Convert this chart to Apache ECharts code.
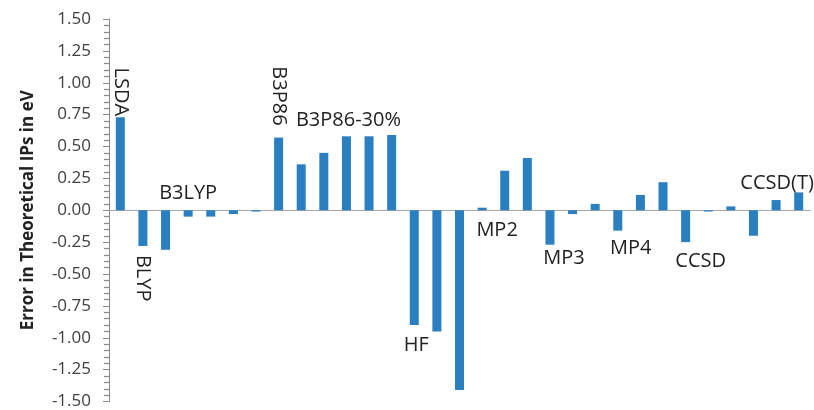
<!DOCTYPE html>
<html>
<head>
<meta charset="utf-8">
<script src="https://cdn.jsdelivr.net/npm/echarts@6/dist/echarts.min.js"></script>
<style>
  html, body { margin: 0; padding: 0; background: #fff; }
  #chart { width: 814px; height: 410px; }
</style>
</head>
<body>
<div id="chart"></div>
<script>
// One bar per calculation, in the order they were run
const categories = ['1', '2', '3', '4', '5', '6', '7', '8', '9', '10', '11', '12', '13', '14', '15', '16',
  '17', '18', '19', '20', '21', '22', '23', '24', '25', '26', '27', '28', '29', '30', '31'];

// Error of the computed ionisation potential, eV
const errors = [0.73, -0.28, -0.31, -0.05, -0.05, -0.03, -0.01, 0.57, 0.36, 0.45, 0.58, 0.58, 0.59,
  -0.90, -0.95, -1.41, 0.02, 0.31, 0.41, -0.27, -0.03, 0.05, -0.16, 0.12, 0.22, -0.25, -0.01, 0.03,
  -0.20, 0.08, 0.14];

// Method name written next to the first bar of each group
const methodNames = ['LSDA', 'BLYP', '', 'B3LYP', '', '', '', 'B3P86', '', '', 'B3P86-30%', '', '',
  'HF', '', '', 'MP2', '', '', 'MP3', '', '', 'MP4', '', '', 'CCSD', '', '', '', 'CCSD(T)', ''];

// Y axis range and step
const yMin = -1.5;
const yMax = 1.5;
const yStep = 0.25;

const FONT = '"Open Sans", "Noto Sans", sans-serif';
const AXIS_GREY = '#8c8c8c';

// Where each method name sits relative to its bar
const labelLayout = {
  'LSDA':      { position: 'top', rotate: -90, align: 'right', verticalAlign: 'middle', distance: 1 },
  'BLYP':      { position: 'bottom', rotate: -90, align: 'left', verticalAlign: 'middle', distance: 12, offset: [-3, 0] },
  'B3LYP':     { position: 'top', distance: 7 },
  'B3P86':     { position: 'top', rotate: -90, align: 'right', verticalAlign: 'middle', distance: 12 },
  'B3P86-30%': { position: 'top', distance: 6, offset: [2, 0] },
  'HF':        { position: 'bottom', distance: 10, offset: [2, 0] },
  'MP2':       { position: 'bottom', distance: 10, offset: [15, 0] },
  'MP3':       { position: 'bottom', distance: 4, offset: [14, 0] },
  'MP4':       { position: 'bottom', distance: 8, offset: [13, 0] },
  'CCSD':      { position: 'bottom', distance: 9, offset: [15, 0] },
  'CCSD(T)':   { position: 'top', distance: 7, offset: [1, 0] }
};

const barData = errors.map(function (v, i) {
  const name = methodNames[i];
  if (!name) return v;
  return {
    value: v,
    label: Object.assign({
      show: true,
      formatter: name,
      fontFamily: FONT,
      fontSize: 20,
      color: '#222222'
    }, labelLayout[name])
  };
});

const chart = echarts.init(document.getElementById('chart'), null, { renderer: 'canvas' });

chart.setOption({
  animation: false,
  backgroundColor: '#ffffff',
  grid: { left: 109, right: 4, top: 19, bottom: 7, containLabel: false },
  xAxis: {
    type: 'category',
    data: categories,
    axisLine: { show: true, onZero: true, lineStyle: { color: '#a6a6a6', width: 1 } },
    axisTick: { show: false },
    axisLabel: { show: false },
    splitLine: { show: false }
  },
  yAxis: {
    type: 'value',
    min: yMin,
    max: yMax,
    interval: yStep,
    name: 'Error in Theoretical IPs in eV',
    nameLocation: 'middle',
    nameGap: 72,
    nameTextStyle: { fontFamily: FONT, fontSize: 17, fontWeight: 'bold', color: '#222222' },
    axisLine: { show: true, lineStyle: { color: AXIS_GREY, width: 1 } },
    axisTick: { show: true, inside: false, length: 6, lineStyle: { color: AXIS_GREY, width: 1 } },
    minorTick: { show: true, splitNumber: 5, length: 5, lineStyle: { color: AXIS_GREY, width: 1.3 } },
    axisLabel: {
      fontFamily: FONT,
      fontSize: 17,
      color: '#404040',
      margin: 18,
      formatter: function (v) { return v.toFixed(2); }
    },
    splitLine: { show: false },
    minorSplitLine: { show: false }
  },
  series: [{
    type: 'bar',
    data: barData,
    barWidth: 9,
    itemStyle: { color: '#2a7fc0' },
    label: { show: false }
  }]
});
</script>
</body>
</html>
